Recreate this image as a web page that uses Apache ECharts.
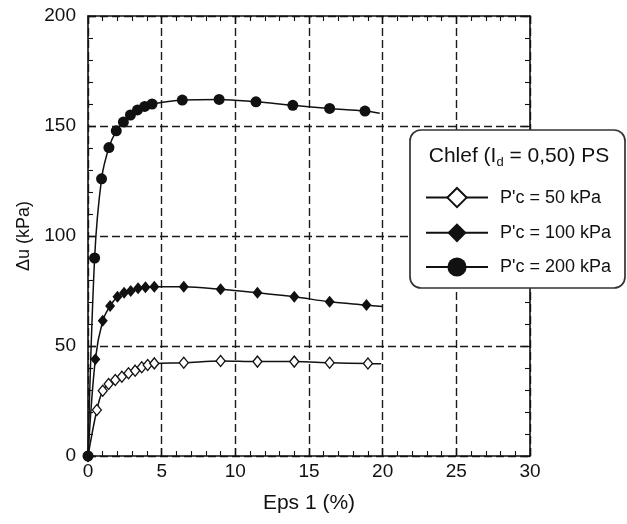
<!DOCTYPE html>
<html>
<head>
<meta charset="utf-8">
<script src="https://cdn.jsdelivr.net/npm/echarts@6/dist/echarts.min.js"></script>
<style>
  html, body { margin: 0; padding: 0; background: #fff; }
  #chart { width: 627px; height: 524px; }
</style>
</head>
<body>
<div id="chart"></div>
<script>
// Axial strain (%) and excess pore pressure (kPa) for the three confining pressures
const seriesNames = ["P'c = 50 kPa", "P'c = 100 kPa", "P'c = 200 kPa"];

const eps50 = [0, 0.6, 1.0, 1.4, 1.85, 2.3, 2.75, 3.2, 3.65, 4.05, 4.5, 6.5, 9.0, 11.5, 14.0, 16.4, 19.0, 19.9];
const du50  = [0, 20.9, 29.7, 32.7, 34.5, 36.0, 37.6, 38.8, 40.3, 41.4, 42.1, 42.4, 43.2, 42.9, 42.9, 42.4, 42.0, 41.9];

const eps100 = [0, 0.5, 1.0, 1.5, 2.0, 2.45, 2.9, 3.4, 3.9, 4.5, 6.5, 9.0, 11.5, 14.0, 16.4, 18.9, 20.0];
const du100  = [0, 44, 61.5, 68.2, 72.4, 74.2, 75.0, 76.2, 76.7, 76.9, 76.9, 75.8, 74.2, 72.4, 70.1, 68.6, 67.9];

const eps200 = [0, 0.45, 0.92, 1.42, 1.92, 2.4, 2.88, 3.36, 3.85, 4.35, 6.4, 8.9, 11.4, 13.9, 16.4, 18.8, 19.8];
const du200  = [0, 90, 126, 140.2, 147.8, 151.8, 155.0, 157.3, 158.9, 160.0, 161.8, 162.1, 161.0, 159.4, 158.0, 156.8, 155.8];

const FONT = "'Liberation Sans', Arial, Helvetica, sans-serif";
const INK = '#111';

// Pair x/y arrays; the last point only extends the curve, without a marker
function toData(xs, ys) {
  return xs.map((x, i) => i === xs.length - 1
    ? { value: [x, ys[i]], symbol: 'none' }
    : [x, ys[i]]);
}

const dashed = { show: true, lineStyle: { type: [8, 4], color: '#1a1a1a', width: 1.4 } };
const frameLine = { show: true, onZero: false, lineStyle: { color: INK, width: 1.6 } };
const tickIn = { show: true, inside: true, length: 8, lineStyle: { color: INK, width: 1.3 } };
const minorIn = { show: true, splitNumber: 5, length: 5, lineStyle: { color: INK, width: 1.1 } };

const chart = echarts.init(document.getElementById('chart'));
chart.setOption({
  animation: false,
  backgroundColor: '#fff',
  grid: { left: 88, right: 97, top: 16, bottom: 68 },
  xAxis: [
    {
      type: 'value', min: 0, max: 30, interval: 5, position: 'bottom',
      name: 'Eps 1 (%)', nameLocation: 'middle', nameGap: 37,
      nameTextStyle: { fontSize: 21, color: INK, fontFamily: FONT },
      axisLine: frameLine, axisTick: tickIn, minorTick: minorIn,
      splitLine: dashed,
      axisLabel: { fontSize: 19, color: INK, fontFamily: FONT, margin: 6 }
    },
    {
      type: 'value', min: 0, max: 30, interval: 5, position: 'top',
      axisLine: frameLine, axisTick: tickIn, minorTick: minorIn,
      splitLine: { show: false }, axisLabel: { show: false }
    }
  ],
  yAxis: [
    {
      type: 'value', min: 0, max: 200, interval: 50, position: 'left',
      name: 'Δu (kPa)', nameLocation: 'middle', nameGap: 51,
      nameTextStyle: { fontSize: 18, color: INK, fontFamily: FONT },
      axisLine: frameLine, axisTick: tickIn, minorTick: minorIn,
      splitLine: dashed,
      axisLabel: { fontSize: 19, color: INK, fontFamily: FONT, margin: 12 }
    },
    {
      type: 'value', min: 0, max: 200, interval: 50, position: 'right',
      axisLine: frameLine, axisTick: tickIn, minorTick: minorIn,
      splitLine: { show: false }, axisLabel: { show: false }
    }
  ],
  legend: {
    orient: 'vertical', left: 420, top: 182,
    itemWidth: 62, itemHeight: 24, itemGap: 15,
    textStyle: { fontSize: 18, color: INK, fontFamily: FONT, padding: [0, 0, 0, 7] },
    data: seriesNames, z: 6
  },
  graphic: [
    {
      type: 'rect', z: 5,
      shape: { x: 410, y: 130, width: 215, height: 158, r: 11 },
      style: { fill: '#fff', stroke: '#333', lineWidth: 1.7 }
    },
    {
      type: 'text', z: 7, x: 519, y: 156,
      style: {
        text: 'Chlef (I{sub|d} = 0,50) PS',
        font: '21px ' + FONT, fill: INK,
        align: 'center', verticalAlign: 'middle',
        rich: { sub: { fontSize: 13, fontFamily: FONT, fill: INK, padding: [13, 0, 0, 0] } }
      }
    }
  ],
  series: [
    {
      name: seriesNames[0], type: 'line', smooth: 0.35,
      data: toData(eps50, du50),
      symbol: 'diamond', symbolSize: [9, 11],
      itemStyle: { color: '#fff', borderColor: INK, borderWidth: 1.3 },
      lineStyle: { color: INK, width: 1.5 }
    },
    {
      name: seriesNames[1], type: 'line', smooth: 0.35,
      data: toData(eps100, du100),
      symbol: 'diamond', symbolSize: [10, 12],
      itemStyle: { color: INK, borderColor: INK, borderWidth: 0 },
      lineStyle: { color: INK, width: 1.5 }
    },
    {
      name: seriesNames[2], type: 'line', smooth: 0.35,
      data: toData(eps200, du200),
      symbol: 'circle', symbolSize: 11,
      itemStyle: { color: INK, borderColor: INK, borderWidth: 0 },
      lineStyle: { color: INK, width: 1.5 }
    }
  ]
});
</script>
</body>
</html>
